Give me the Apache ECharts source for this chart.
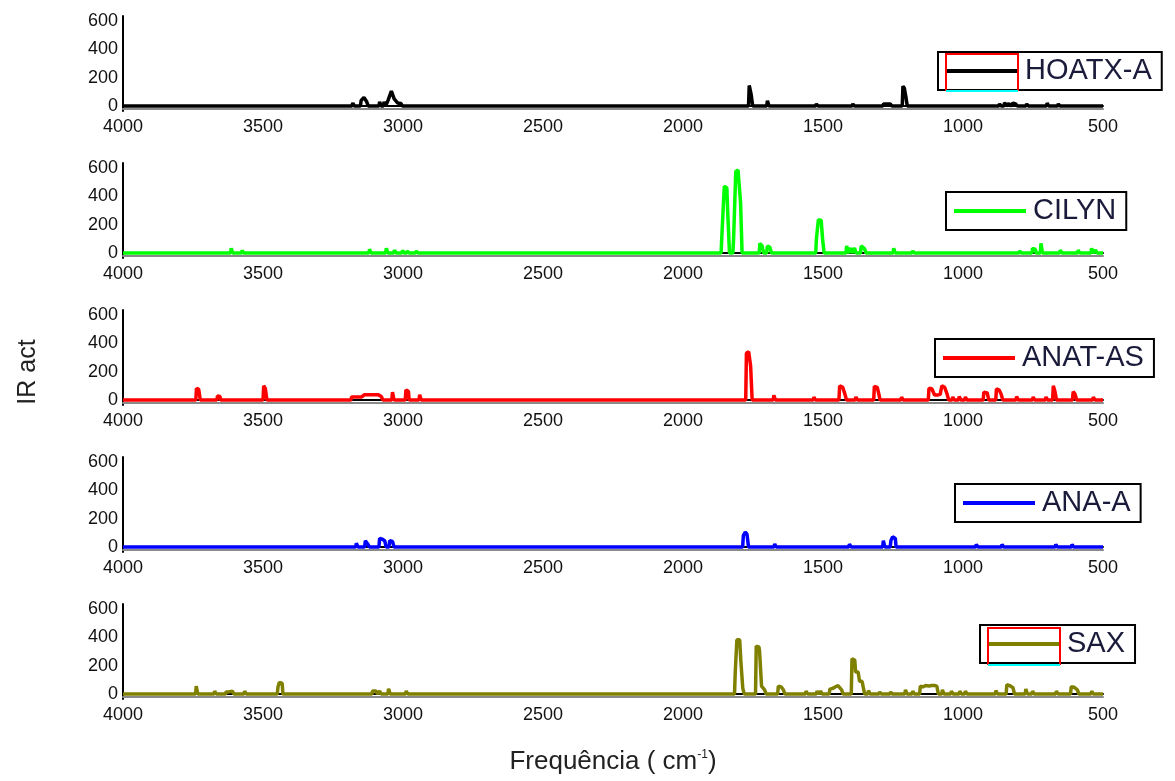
<!DOCTYPE html>
<html><head><meta charset="utf-8">
<script src="https://cdn.jsdelivr.net/npm/echarts@6/dist/echarts.min.js"></script>
<style>html,body{margin:0;padding:0;background:#fff}#c{width:1175px;height:781px}</style>
</head><body><div id="c"></div>
<script>
// ---- data ----
const seriesNames = ['HOATX-A', 'CILYN', 'ANAT-AS', 'ANA-A', 'SAX'];
const seriesColors = ['#000000', '#00ff00', '#ff0000', '#0000ff', '#808000'];

// [frequency (cm-1), IR activity]
const hoatxPeaks = [[3178,22],[3148,40],[3138,60],[3128,30],[3112,12],[3082,30],[3066,30],[3052,40],[3040,105],[3030,50],[3018,22],[3006,18],
  [1762,145],[1755,80],[1697,38],[1522,15],[1454,12],[1392,15],[1282,15],[1270,15],[1258,15],[1213,140],[1208,125],[1203,70],
  [968,12],[928,12],[868,15],[850,25],[835,18],[820,20],[810,15],[771,15],[731,12],[698,20],[658,15]];
const cilynPeaks = [[3612,33],[3573,18],[3118,27],[3058,33],[3029,20],[3000,18],[2983,15],[2951,15],
  [1860,110],[1851,470],[1845,460],[1838,250],[1818,90],[1810,575],[1802,585],[1793,360],[1724,68],[1716,50],[1697,50],[1688,40],
  [1522,100],[1515,236],[1508,230],[1500,100],[1414,50],[1400,35],[1386,35],[1362,50],[1350,30],[1246,33],[1178,15],[1026,12],
  [829,12],[796,15],[750,33],[743,25],[720,68],[651,20],[587,20],[539,33],[525,20]];
const anatPeaks = [[3736,83],[3728,75],[3661,29],[3655,25],[3496,101],[3490,80],[3182,22],[3170,22],[3158,22],[3146,22],[3136,38],[3124,38],[3112,38],[3100,38],[3088,38],[3076,25],[3036,56],[2988,72],[2982,60],[2939,38],
  [1772,330],[1764,340],[1757,240],[1674,34],[1531,20],[1439,101],[1428,90],[1420,40],[1381,22],[1315,97],[1308,90],[1300,50],[1218,20],
  [1120,83],[1110,80],[1100,35],[1090,35],[1080,40],[1074,100],[1064,90],[1055,40],[1035,22],[1012,25],[990,22],[924,56],[912,50],
  [879,78],[872,70],[862,40],[807,25],[748,22],[702,22],[676,100],[670,60],[605,60],[598,40],[533,20]];
const anaPeaks = [[3165,27],[3133,45],[3124,20],[3082,61],[3072,55],[3064,45],[3046,45],[3036,40],
  [1783,80],[1776,106],[1770,90],[1671,22],[1404,20],[1283,45],[1256,45],[1250,72],[1243,60],[951,18],[859,18],[776,12],[667,18],[609,18]];
const saxPeaks = [[3737,56],[3671,20],[3630,15],[3620,15],[3608,20],[3564,20],[3529,12],[3445,50],[3440,83],[3433,75],
  [3107,22],[3095,22],[3082,22],[3050,38],[2987,22],
  [1812,150],[1806,383],[1799,383],[1792,236],[1785,40],[1737,338],[1730,330],[1725,300],[1718,56],[1707,30],[1658,56],[1651,50],[1640,30],
  [1559,20],[1520,20],[1507,20],[1474,35],[1464,40],[1455,50],[1448,60],[1441,67],[1432,30],[1395,248],[1388,240],[1382,155],[1376,155],[1368,90],[1362,90],[1355,50],
  [1336,25],[1296,15],[1257,15],[1204,30],[1178,20],[1151,56],[1142,50],[1135,60],[1128,50],[1120,56],[1114,60],[1108,67],[1100,60],[1092,56],[1072,30],
  [1040,20],[1010,20],[990,20],[881,25],[842,67],[835,60],[829,67],[820,45],[774,35],[750,20],[665,20],[612,52],[602,48],[590,30],[539,20]];
const allPeaks = [hoatxPeaks, cilynPeaks, anatPeaks, anaPeaks, saxPeaks];

const yTickValues = [0, 200, 400, 600];
const xRange = [500, 4000];
const xTickStep = 500;
const yRange = [-35, 635];

// stick-spectrum polyline from the peak list (adjacent peaks are joined)
function spectrum(peaks) {
  const p = peaks.slice().sort((a, b) => b[0] - a[0]);
  const pts = [[xRange[1], 0]];
  for (let i = 0; i < p.length; i++) {
    const [f, h] = p[i];
    const prev = p[i - 1], next = p[i + 1];
    if (!prev || prev[0] - f > 12) pts.push([f + 4, 0]);
    pts.push([f + 1.5, h], [f - 1.5, h]);
    if (!next || f - next[0] > 12) pts.push([f - 4, 0]);
  }
  pts.push([xRange[0], 0]);
  return pts;
}

// ---- layout ----
const font = '"Liberation Sans", Arial, sans-serif';
const gridTops = [16, 163, 310, 457, 604];
const gridH = 95;
const legendPos = [[938, 52], [946, 192], [935, 339], [955, 484], [980, 625]];

const grids = [], xAxes = [], yAxes = [], series = [], legends = [];
for (let i = 0; i < 5; i++) {
  grids.push({ left: 123, right: 72, top: gridTops[i], height: gridH });
  xAxes.push({
    type: 'value', gridIndex: i, inverse: true, min: xRange[0], max: xRange[1], interval: xTickStep,
    axisLine: { lineStyle: { color: '#000', width: 2, shadowColor: '#8a8a8a', shadowOffsetY: 3, shadowBlur: 0 } },
    axisTick: { show: false }, splitLine: { show: false },
    axisLabel: { color: '#111', fontSize: 18, fontFamily: font, margin: 7,
      formatter: v => String(v) }
  });
  yAxes.push({
    type: 'value', gridIndex: i, min: yRange[0], max: yRange[1],
    axisLine: { show: true, lineStyle: { color: '#000', width: 2 } },
    axisTick: { show: false }, splitLine: { show: false },
    axisLabel: { color: '#111', fontSize: 18, fontFamily: font, margin: 5, customValues: yTickValues }
  });
  series.push({
    name: seriesNames[i], type: 'line', xAxisIndex: i, yAxisIndex: i,
    data: spectrum(allPeaks[i]), symbol: 'none', color: seriesColors[i],
    lineStyle: { color: seriesColors[i], width: 3.5, join: 'bevel' }, animation: false
  });
  legends.push({
    data: [seriesNames[i]], left: legendPos[i][0], top: legendPos[i][1],
    orient: 'horizontal', backgroundColor: '#fff', borderColor: '#000', borderWidth: 2,
    padding: [4, 10, 4, 8], itemWidth: 72, itemHeight: 4, itemGap: 0, icon: 'rect',
    selectedMode: false,
    textStyle: { fontSize: 29, fontFamily: font, color: '#1a1a3a', lineHeight: 30, padding: [0, 0, 0, 2] }
  });
}

// red / cyan frames around two legend icons (as in the reference)
function iconFrame(x0, y0, x1, y1) {
  return [
    { type: 'polyline', z: 100, shape: { points: [[x0, y1], [x0, y0], [x1, y0], [x1, y1]] }, style: { stroke: '#ff0000', lineWidth: 2, fill: null } },
    { type: 'line', z: 100, shape: { x1: x0, y1: y1, x2: x1, y2: y1 }, style: { stroke: '#00ffff', lineWidth: 2 } }
  ];
}

const chart = echarts.init(document.getElementById('c'), null, { renderer: 'canvas' });
chart.setOption({
  animation: false,
  backgroundColor: '#fff',
  grid: grids, xAxis: xAxes, yAxis: yAxes, series: series, legend: legends,
  graphic: [
    { type: 'text', x: 28, y: 372, rotation: Math.PI / 2,
      style: { text: 'IR act', font: '25px ' + font, fill: '#222', textAlign: 'center', textVerticalAlign: 'middle', align: 'center', verticalAlign: 'middle' } },
    { type: 'text', x: 613, y: 762,
      style: { text: 'Frequência ( cm{sup|-1})', font: '26px ' + font, fill: '#222',
        textAlign: 'center', textVerticalAlign: 'middle', align: 'center', verticalAlign: 'middle',
        rich: { sup: { fontSize: 12, fontFamily: font, fill: '#222', verticalAlign: 'top', padding: [0, 0, 10, 0] } } } },
    ...iconFrame(946, 54, 1018, 91),
    ...iconFrame(988, 628, 1060, 665)
  ]
});
</script>
</body></html>
